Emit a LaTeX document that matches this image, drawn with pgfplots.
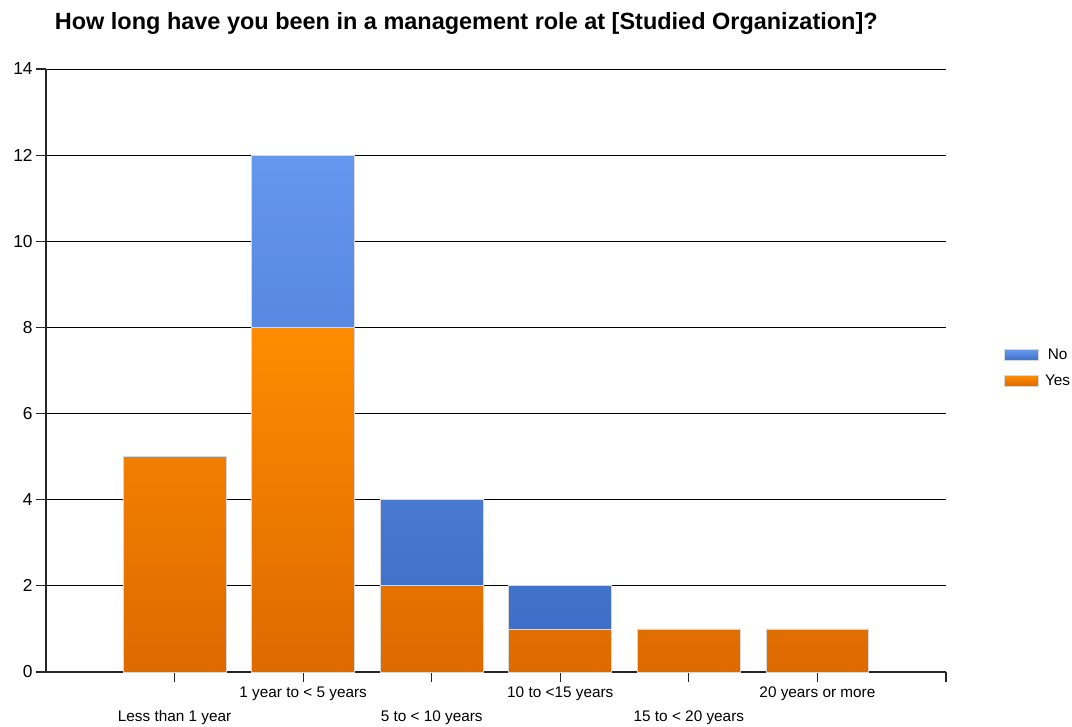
\documentclass[border=0pt]{standalone}
\usepackage{fontspec}
\setmainfont{Liberation Sans}
\usepackage{pgfplots}
\pgfplotsset{compat=1.18}

\definecolor{orTop}{RGB}{255,140,0}
\definecolor{orBot}{RGB}{220,106,0}
\definecolor{blTop}{RGB}{102,151,238}
\definecolor{blBot}{RGB}{62,110,198}
\definecolor{edge}{RGB}{215,215,215}

\begin{document}
\begin{tikzpicture}
\useasboundingbox (0,0) rectangle (804pt,544.5pt);
\node[anchor=west, font=\fontsize{17.6}{20}\selectfont\bfseries, inner sep=0pt]
  at (41pt,527pt) {How long have you been in a management role at [Studied Organization]?};
\begin{axis}[
    at={(34.5pt,40.5pt)}, anchor=south west,
    scale only axis,
    width=675pt, height=452.25pt,
    ybar stacked,
    bar width=0.8,
    xmin=0, xmax=7,
    ymin=0, ymax=14,
    ytick={0,2,...,14},
    xtick={2,4,6,7},
    xticklabels={1 year to < 5 years, 10 to <15 years, 20 years or more, {}},
    extra x ticks={1,3,5},
    extra x tick labels={Less than 1 year, 5 to < 10 years, 15 to < 20 years},
    extra x tick style={xticklabel style={yshift=-18pt}},
    axis x line*=bottom,
    axis y line*=left,
    axis line style={black!85, line width=0.8pt},
    tick style={black!85, line width=0.8pt},
    tick align=outside,
    major tick length=7.5pt,
    ymajorgrids=true,
    grid style={black, line width=0.6pt},
    xticklabel style={font=\fontsize{11.5}{13}\selectfont, yshift=0pt},
    yticklabel style={font=\fontsize{13}{15}\selectfont, xshift=1pt},
    /pgf/number format/assume math mode=true,
    reverse legend,
    legend style={at={(1.06,0.504)}, anchor=west, draw=none,
        font=\fontsize{11.5}{13}\selectfont, row sep=6pt,
        /tikz/every odd column/.append style={column sep=3pt}},
    legend image code/.code={\draw[#1] (0pt,-4pt) rectangle (25pt,4pt);},
]
\addplot[draw=edge, line width=0.6pt, top color=orTop, bottom color=orBot]
  coordinates {(1,5) (2,8) (3,2) (4,1) (5,1) (6,1)};
\addlegendentry{Yes}
\addplot[draw=edge, line width=0.6pt, top color=blTop, bottom color=blBot]
  coordinates {(1,0) (2,4) (3,2) (4,1) (5,0) (6,0)};
\addlegendentry{No}
\end{axis}
\end{tikzpicture}
\end{document}
